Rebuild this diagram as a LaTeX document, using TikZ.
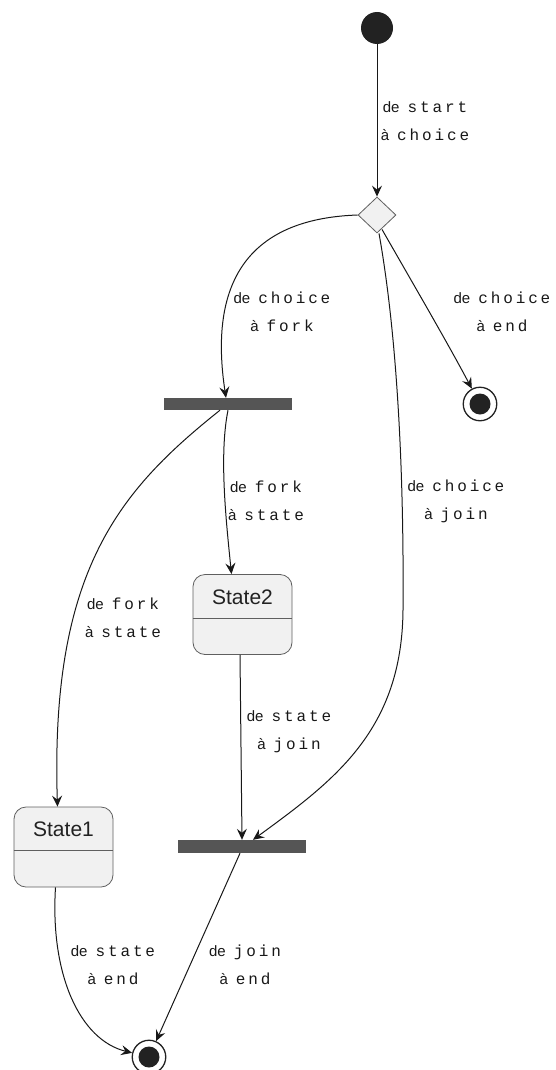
\documentclass[tikz,border=0pt]{standalone}
\usepackage{fontspec}
\setmainfont{Liberation Sans}
\newfontfamily\monof[LetterSpace=18]{Liberation Mono}
\usetikzlibrary{arrows.meta,shapes.geometric}
\definecolor{linec}{HTML}{181818}
\definecolor{barc}{HTML}{555555}
\definecolor{statefill}{HTML}{F1F1F1}
\definecolor{stateline}{HTML}{5F5F5F}
\definecolor{dotc}{HTML}{222222}
\newcommand{\mono}[1]{\hspace{8pt}{\monof\fontsize{16}{28}\selectfont #1}}
\begin{document}
\begin{tikzpicture}[x=1pt,y=-1pt,
  conn/.style={draw=linec, line width=1pt, -{Stealth[length=11pt,width=10pt,inset=4pt]}},
  lbl/.style={font=\fontsize{15}{28}\selectfont, align=center, inner sep=0pt, text=linec},
  bar/.style={fill=barc, draw=none, minimum width=128pt, minimum height=12pt, inner sep=0pt},
  statebox/.style={draw=stateline, fill=statefill, line width=0.8pt, rounded corners=12pt, minimum width=99pt, minimum height=80pt, inner sep=0pt},
  statename/.style={font=\fontsize{21}{26}\selectfont, text=dotc, inner sep=0pt},
  divider/.style={draw=stateline, line width=0.8pt},
  startdot/.style={circle, fill=dotc, minimum size=32pt, inner sep=0pt},
  enddot/.style={circle, draw=dotc, line width=1.3pt, fill=white, minimum size=33.5pt, inner sep=0pt},
  choicebox/.style={diamond, draw=stateline, fill=statefill, line width=0.8pt, minimum width=38pt, minimum height=36pt, inner sep=0pt}]
\useasboundingbox (0,0) rectangle (555,1070);

% nodes
\node[startdot] (start) at (377,28) {};
\node[choicebox] (choice) at (377,215) {};
\node[enddot] (end1) at (480,404) {};
\fill[dotc] (end1.center) circle (10.5pt);
\node[bar] (fork) at (228,404) {};
\node[bar, minimum height=13pt] (join) at (242,846.5) {};
\node[statebox] (s2) at (242.5,614.5) {};
\draw[divider] ([yshift=-44pt]s2.north west) -- ([yshift=-44pt]s2.north east);
\node[statename] (s2name) at ([yshift=-23pt]s2.north) {State2};
\node[statebox] (s1) at (63.5,847) {};
\draw[divider] ([yshift=-44pt]s1.north west) -- ([yshift=-44pt]s1.north east);
\node[statename] (s1name) at ([yshift=-23pt]s1.north) {State1};
\node[enddot] (end2) at (149,1057) {};
\fill[dotc] (end2.center) circle (10.5pt);

% connectors
\draw[conn] (start) -- (choice);
\draw[conn] (choice.west) .. controls (270,218) and (205,260) .. ([xshift=-2pt]fork.north);
\draw[conn] ([xshift=5pt,yshift=4pt]choice.south) .. controls (412,282) and (446,340) .. (end1);
\draw[conn] ([xshift=2pt]choice.south) .. controls (398,340) and (404,480) .. (403,610)
   .. controls (402,730) and (335,780) .. ([xshift=11pt]join.north);
\draw[conn] (fork.south) .. controls (219,455) and (226,520) .. ([xshift=-11pt]s2.north);
\draw[conn] ([xshift=-8pt]fork.south) .. controls (120,490) and (50,570) .. ([xshift=-6pt]s1.north);
\draw[conn] ([xshift=-2.5pt]s2.south) -- (join.north);
\draw[conn] ([xshift=-8pt]s1.south) .. controls (50,975) and (80,1040) .. (end2);
\draw[conn] ([xshift=-2pt]join.south) -- (end2);

% labels
\node[lbl] (l1) at (425,121) {de\mono{start}\\à\mono{choice}};
\node[lbl] (l2) at (282,312) {de\mono{choice}\\à\mono{fork}};
\node[lbl] (l3) at (502,312) {de\mono{choice}\\à\mono{end}};
\node[lbl] (l4) at (456,501) {de\mono{choice}\\à\mono{join}};
\node[lbl] (l5) at (266,501) {de\mono{fork}\\à\mono{state}};
\node[lbl] (l6) at (123,618) {de\mono{fork}\\à\mono{state}};
\node[lbl] (l7) at (289,732) {de\mono{state}\\à\mono{join}};
\node[lbl] (l8) at (113,965) {de\mono{state}\\à\mono{end}};
\node[lbl] (l9) at (245,965) {de\mono{join}\\à\mono{end}};
\end{tikzpicture}
\end{document}
